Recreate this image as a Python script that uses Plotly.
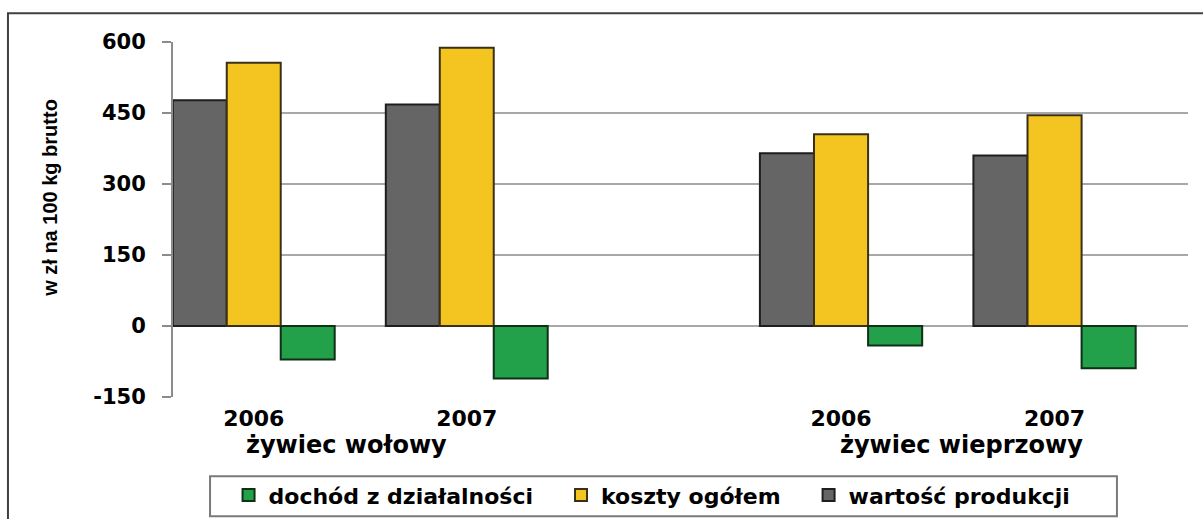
import plotly.graph_objects as go

# values in zł per 100 kg live weight
years = ["2006", "2007"]
groups = ["żywiec wołowy", "żywiec wieprzowy"]
wartosc_produkcji = [477, 468, 365, 360]
koszty_ogolem = [556, 588, 405, 445]
dochod_z_dzialalnosci = [-71, -111, -41, -89]
y_ticks = [-150, 0, 150, 300, 450, 600]

PAD = "\u00a0" * 3  # a little extra room between legend entries
series = [
    ("wartość produkcji", wartosc_produkcji, "#656565", "#1e1e1e"),
    ("koszty ogółem", koszty_ogolem, "#f4c521", "#3a3018"),
    ("dochód z działalności", dochod_z_dzialalnosci, "#22a14a", "#0f2f17"),
]

WIDE = "DejaVu Sans"
GRID = "#a8a8a8"

fig = go.Figure()

# one subplot per animal group, so the gap between groups can be wider
for g, xaxis in enumerate(["x", "x2"]):
    for name, values, fill, edge in series:
        fig.add_trace(go.Bar(
            x=years,
            y=values[2 * g:2 * g + 2],
            name=name + PAD,
            legendgroup=name,
            showlegend=(g == 0),
            marker=dict(color=fill, line=dict(color=edge, width=2)),
            xaxis=xaxis,
            yaxis="y",
        ))

split = 0.4739
xcommon = dict(
    type="category",
    showgrid=False,
    showline=False,
    zeroline=False,
    ticks="",
    ticklabelstandoff=6,
    tickfont=dict(family=WIDE, size=22, color="#000000", weight="bold"),
)
fig.update_layout(
    xaxis=dict(domain=[0, split], range=[-0.379, 1.879], anchor="y", **xcommon),
    xaxis2=dict(domain=[split, 1], range=[-0.876, 1.625], anchor="y", **xcommon),
    yaxis=dict(
        range=[-150, 600],
        tickvals=y_ticks,
        ticktext=[str(v) for v in y_ticks],  # plain hyphen, as in the original
        showgrid=True,
        gridcolor=GRID,
        gridwidth=2,
        zeroline=True,
        zerolinecolor=GRID,
        zerolinewidth=2,
        showline=True,
        linecolor="#8c8c8c",
        linewidth=2,
        ticks="outside",
        ticklen=9,
        tickwidth=2,
        tickcolor="#8c8c8c",
        ticklabelstandoff=12,
        tickfont=dict(family=WIDE, size=21, color="#000000", weight="bold"),
    ),
    bargap=0.24,
    bargroupgap=0,
    barmode="group",
    plot_bgcolor="white",
    paper_bgcolor="white",
    width=1203,
    height=519,
    margin=dict(l=173, r=15, t=42, b=122, autoexpand=False),
    legend=dict(
        orientation="h",
        traceorder="reversed",
        x=0.4833,
        xanchor="center",
        y=-0.2177,
        yanchor="top",
        bgcolor="rgba(0,0,0,0)",
        borderwidth=0,
        font=dict(family=WIDE, size=22, color="#000000", weight="bold"),
    ),
)

# legend frame drawn separately so its height matches the original
fig.add_shape(
    type="rect", xref="paper", yref="paper",
    x0=0.0365, x1=0.930, y0=-0.336, y1=-0.2234,
    line=dict(color="#7a7a7a", width=2),
)

# group captions under the year labels
for text, xpos in zip(groups, [0.171, 0.777]):
    fig.add_annotation(
        text=text, xref="paper", yref="paper", x=xpos, y=-0.136,
        xanchor="center", yanchor="middle", showarrow=False,
        font=dict(family=WIDE, size=24, color="#000000", weight="bold"),
    )

fig.add_annotation(
    text="w zł na 100 kg brutto", xref="paper", yref="paper", x=-0.1212, y=0.561,
    xanchor="center", yanchor="middle", textangle=-90, showarrow=False,
    font=dict(family="Liberation Sans", size=20, color="#000000", weight="bold"),
)

# outer frame of the original chart (right and bottom edges are cropped off)
fig.add_shape(
    type="rect", xref="paper", yref="paper",
    x0=-0.1626, x1=1.2, y0=-0.6, y1=1.081,
    line=dict(color="#404040", width=2),
)

fig.write_html(
    "out.html",
    config={"displayModeBar": False},
    post_script="document.body.style.margin='0';",
)
